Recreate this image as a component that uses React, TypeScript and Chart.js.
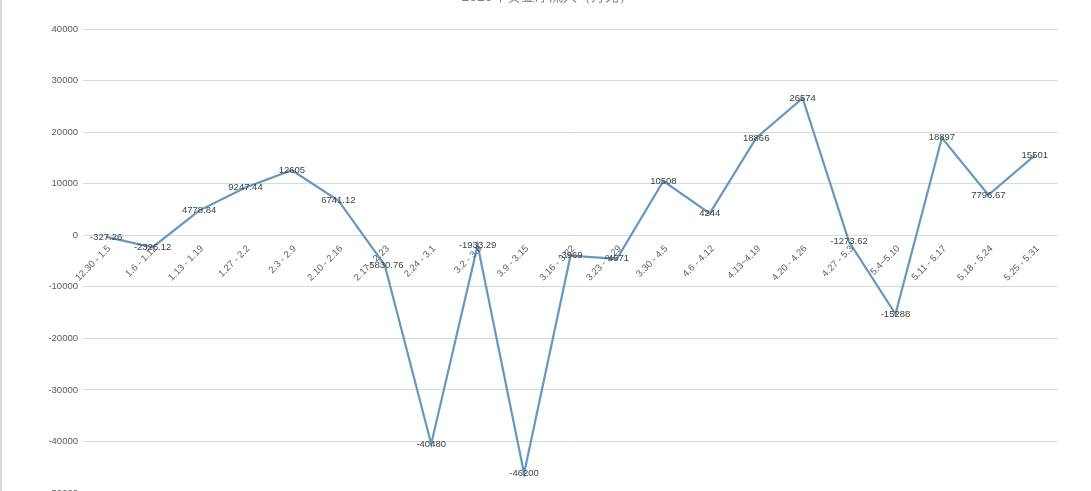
import React, { useEffect, useRef } from "react";
import { Chart, registerables } from "chart.js";

Chart.register(...registerables);

const categories = [
  "12.30 - 1.5", "1.6 - 1.12", "1.13 - 1.19", "1.27 - 2.2", "2.3 - 2.9", "2.10 - 2.16",
  "2.17 - 2.23", "2.24 - 3.1", "3.2 - 3.8", "3.9 - 3.15", "3.16 - 3.22", "3.23 - 3.29",
  "3.30 - 4.5", "4.6 - 4.12", "4.13~4.19", "4.20 - 4.26", "4.27 - 5.3", "5.4~5.10",
  "5.11 - 5.17", "5.18 - 5.24", "5.25 - 5.31",
];
const values = [
  -327.26, -2326.12, 4778.84, 9247.44, 12605, 6741.12,
  -5830.76, -40480, -1933.29, -46200, -3969, -4571,
  10508, 4244, 18866, 26574, -1273.62, -15288,
  18897, 7796.67, 15501,
];
const titleText = "2020年资金净流入（万元）";
const yMin = -50000;
const yMax = 40000;
const yStep = 10000;

const FONT = "'Liberation Sans', Arial, sans-serif";

const overlayPlugin = {
  id: "overlay",
  afterDatasetsDraw(chart: any) {
    const ctx = chart.ctx;
    const xs = chart.scales.x;
    const ys = chart.scales.y;
    const y0 = ys.getPixelForValue(0);
    ctx.save();
    // x labels along zero line
    ctx.font = `9.5px ${FONT}`;
    ctx.fillStyle = "#606060";
    categories.forEach((c, i) => {
      const x = xs.getPixelForValue(i);
      ctx.save();
      ctx.translate(x + 3, y0 + 12);
      ctx.rotate(-Math.PI / 4);
      ctx.textAlign = "right";
      ctx.textBaseline = "middle";
      ctx.fillText(c, 0, 0);
      ctx.restore();
    });
    // data labels
    const meta = chart.getDatasetMeta(0);
    ctx.fillStyle = "#404040";
    ctx.textAlign = "center";
    ctx.textBaseline = "middle";
    meta.data.forEach((pt: any, i: number) => {
      ctx.fillText(String(values[i]), pt.x, pt.y);
    });
    // title (partially cropped at the top)
    ctx.font = `14px ${FONT}`;
    ctx.fillStyle = "#808080";
    ctx.textAlign = "center";
    ctx.textBaseline = "middle";
    ctx.fillText(titleText, 545, -3);
    ctx.restore();
  },
};

export default function App() {
  const ref = useRef<HTMLCanvasElement>(null);
  useEffect(() => {
    if (!ref.current) return;
    const chart = new Chart(ref.current, {
      type: "line",
      data: {
        labels: categories,
        datasets: [
          {
            data: values,
            borderColor: "#6497c2",
            borderWidth: 2.2,
            pointRadius: 0,
            tension: 0,
            fill: false,
          },
        ],
      },
      options: {
        animation: false,
        responsive: false,
        maintainAspectRatio: false,
        layout: { padding: { left: 0, right: 33, top: 29, bottom: 27 } },
        plugins: {
          legend: { display: false },
          title: { display: false },
          tooltip: { enabled: false },
        },
        scales: {
          x: {
            type: "category",
            offset: true,
            display: false,
          },
          y: {
            min: yMin,
            max: yMax,
            afterFit(scale: any) {
              scale.width = 81;
            },
            border: { display: false },
            grid: { color: "#d9d9d9", drawTicks: false, lineWidth: 1 },
            ticks: {
              stepSize: yStep,
              padding: 5,
              color: "#595959",
              font: { family: FONT, size: 9.5 },
              callback: (v: any) => String(v),
            },
          },
        },
      },
      plugins: [overlayPlugin],
    });
    return () => chart.destroy();
  }, []);
  return (
    <div
      style={{
        position: "fixed",
        left: 0,
        top: 0,
        width: 1091,
        height: 520,
        background: "#fff",
        borderLeft: "2px solid #d8d8d8",
        boxSizing: "border-box",
      }}
    >
      <canvas ref={ref} width={1089} height={520} style={{ display: "block" }} />
    </div>
  );
}
